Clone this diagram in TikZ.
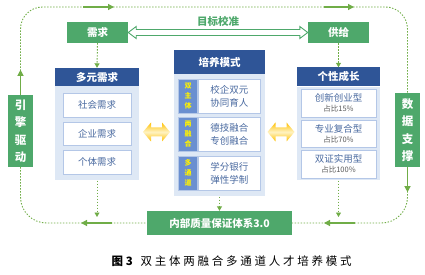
\documentclass[tikz,border=0pt]{standalone}
\usepackage{fontspec}
\setmainfont{Noto Sans CJK SC}
\newfontfamily\capfont[LetterSpace=24]{Noto Sans CJK SC}
\usetikzlibrary{arrows.meta,calc}
\definecolor{gbox}{HTML}{4EA86B}
\definecolor{gline}{HTML}{70AD47}
\definecolor{hblue}{HTML}{2F5597}
\definecolor{pblue}{HTML}{DEE8F5}
\definecolor{iborder}{HTML}{B4C7E7}
\definecolor{itext}{HTML}{4A6AA0}
\definecolor{lblue}{HTML}{6A8FD0}
\definecolor{ygold}{HTML}{FFC000}
\definecolor{ylight}{HTML}{FFF3C4}
\begin{document}
\begin{tikzpicture}[x=1pt,y=-1pt,
  greenbox/.style={fill=gbox,text=white,font=\bfseries\fontsize{10.5}{11}\selectfont,inner sep=0pt},
  vgreen/.style={greenbox,font=\bfseries\fontsize{11.5}{17.5}\selectfont,align=center,minimum width=25pt},
  hdr/.style={fill=hblue,text=white,font=\bfseries\fontsize{10.5}{11}\selectfont,inner sep=0pt},
  panel/.style={fill=pblue,inner sep=0pt,anchor=north},
  item/.style={fill=white,draw=iborder,line width=0.8pt,text=itext,font=\fontsize{9.5}{10}\selectfont,inner sep=0pt,minimum width=68pt},
  ritem/.style={item,minimum width=75pt,align=center,font=\fontsize{9.5}{11.5}\selectfont},
  mitem/.style={item,minimum width=62pt,minimum height=34pt,align=center,font=\fontsize{9.5}{13}\selectfont,anchor=west},
  lbl/.style={fill=lblue,draw=iborder,line width=0.6pt,text=yellow,font=\bfseries\fontsize{7}{10}\selectfont,align=center,inner sep=0pt,minimum width=19pt,minimum height=34pt,anchor=east},
  dotl/.style={gline,line width=0.9pt,dash pattern=on 1.4pt off 1.6pt},
  dota/.style={dotl,-{Triangle[length=4.5pt,width=5pt]}},
  sola/.style={gline,line width=1.2pt,-{Triangle[length=6pt,width=6pt]}},
  yarr/.style={top color=ygold,bottom color=ygold,middle color=ylight,draw=none}
]
\path[use as bounding box] (0,0) rectangle (425,275);

% top boxes
\node[greenbox,minimum width=61pt,minimum height=21pt] (need) at (97.5,32.5) {需求};
\node[greenbox,minimum width=61pt,minimum height=21pt] (supply) at (338.5,32.5) {供给};
\node[text=gbox,font=\bfseries\fontsize{10.5}{11}\selectfont] (goal) at (218,21) {目标校准};
\draw[gbox,line width=0.9pt,fill=white]
  (need.east) -- ++(8,-6) -- ++(0,3) -- ($(supply.west)+(-8,-3)$) -- ++(0,-3) -- (supply.west)
  -- ++(-8,6) -- ++(0,-3) -- ($(need.east)+(8,3)$) -- ++(0,3) -- cycle;

% left column
\node[hdr,minimum width=84pt,minimum height=18pt] (hL) at (97,77) {多元需求};
\node[panel,minimum width=84pt,minimum height=94pt] (pL) at (hL.south) {};
\node[item,minimum height=24pt] (s1) at (97,105) {社会需求};
\node[item,minimum height=23pt] (s2) at (97,133.5) {企业需求};
\node[item,minimum height=24pt] (s3) at (97,162) {个体需求};

% middle column
\node[hdr,minimum width=91pt,minimum height=24pt] (hM) at (219.5,62) {培养模式};
\node[panel,minimum width=91pt,minimum height=122pt] (pM) at (hM.south) {};
\node[mitem] (m1) at (198,96) {校企双元\\协同育人};
\node[mitem] (m2) at (198,134) {德技融合\\专创融合};
\node[mitem] (m3) at (198,173) {学分银行\\弹性学制};
\node[lbl] (l1) at (m1.west) {双\\主\\体};
\node[lbl] (l2) at (m2.west) {两\\融\\合};
\node[lbl] (l3) at (m3.west) {多\\通\\道};

% right column
\node[hdr,minimum width=83pt,minimum height=19pt] (hR) at (338.5,77) {个性成长};
\node[panel,minimum width=83pt,minimum height=93.5pt] (pR) at (hR.south) {};
\node[ritem,minimum height=28pt] (r1) at (338.5,103) {创新创业型\\[-1.5pt]{\fontsize{7.5}{8}\selectfont\color{black!65}占比15\%}};
\node[ritem,minimum height=27pt] (r2) at (338.5,133.5) {专业复合型\\[-1.5pt]{\fontsize{7.5}{8}\selectfont\color{black!65}占比70\%}};
\node[ritem,minimum height=28pt] (r3) at (338.5,164) {双证实用型\\[-1.5pt]{\fontsize{7.5}{8}\selectfont\color{black!65}占比100\%}};

% side boxes
\node[vgreen,minimum height=72pt] (engine) at (20.5,131) {引\\擎\\驱\\动};
\node[vgreen,minimum height=74pt] (data) at (407.5,130) {数\\据\\支\\撑};

% bottom box
\node[greenbox,minimum width=145pt,minimum height=24pt,font=\bfseries\fontsize{10.5}{11}\selectfont] (quality) at (219.5,223) {内部质量保证体系3.0};

% yellow double arrows
\foreach \a/\b [count=\i] in {pL/pM,pM/pR}{
  \path let \p1=($(\a.east)!0.5!(\b.west)$) in
    coordinate (yc\i) at (\x1,132);
  \path[yarr] ($(yc\i)+(-13.5,0)$) -- ++(8,-9.5) -- ++(0,5) -- ++(11,0) -- ++(0,-5) -- ++(8,9.5)
     -- ++(-8,9.5) -- ++(0,-5) -- ++(-11,0) -- ++(0,5) -- cycle;
}

% dotted vertical arrows
\draw[dota] (need.south) -- (hL.north);
\draw[dota] (supply.south) -- (hR.north);
\coordinate (eL) at (pL.south |- 0,217);
\coordinate (eR) at (pR.south |- 0,217);
\draw[dota] (pL.south) -- (eL);
\draw[dota] (pM.south) -- (quality.north);
\draw[dota] (pR.south) -- (eR);

% loop: top
\coordinate (tl) at (engine.north |- 0,7);
\coordinate (tr) at (data.north |- 0,7);
\draw[dotl,rounded corners=22pt] (engine.north) -- (tl) -- (tr) -- (data.north);
\draw[sola] (engine.north) -- ++(0,-25);
\draw[sola] (83,7) -- (114,7);
\draw[sola] (324,7) -- (354,7);
% loop: bottom
\coordinate (bl) at (engine.south |- quality.west);
\coordinate (br) at (data.south |- quality.east);
\draw[dotl,rounded corners=26pt] (engine.south) -- (bl) -- (quality.west);
\draw[dotl,rounded corners=26pt] (data.south) -- (br) -- (quality.east);
\draw[sola] (112,223) -- (81,223);
\draw[sola] (data.south) -- ++(0,25);
\draw[sola] (355,223) -- (324,223);

% caption
\node[font=\fontsize{11.5}{12}\selectfont\capfont,anchor=west] (cap) at (108,261) {\textbf{图3}\hspace{5pt}双主体两融合多通道人才培养模式};
\end{tikzpicture}
\end{document}
